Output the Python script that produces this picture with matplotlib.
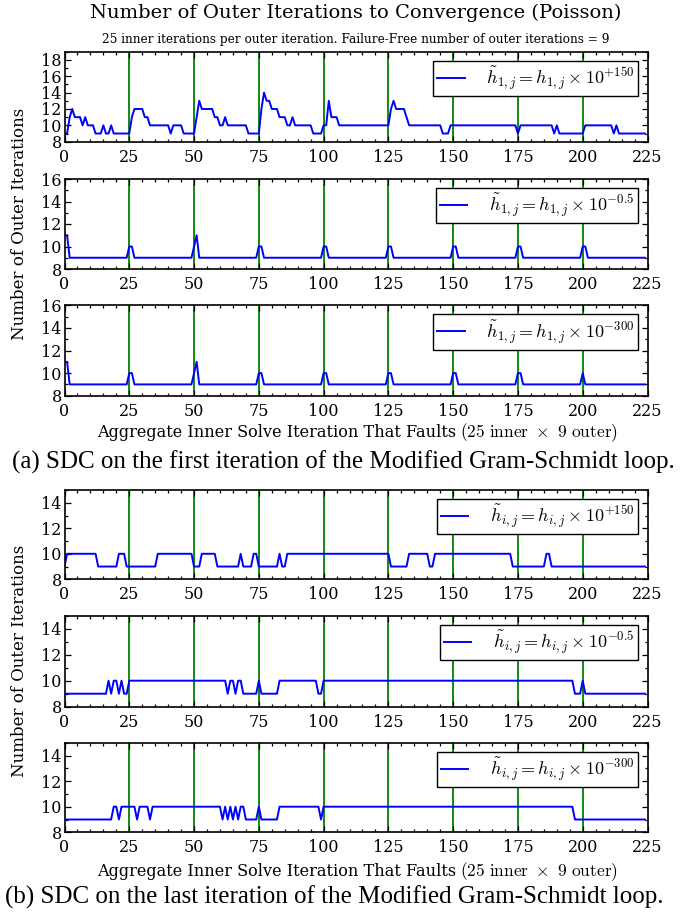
import numpy as np
import matplotlib
matplotlib.use('Agg')
import matplotlib.pyplot as plt
from matplotlib.ticker import MultipleLocator

# ---------------- data ----------------
inner_per_outer = 25
n_outer = 9
fault_iter = np.arange(inner_per_outer * n_outer)          # 0 .. 224
outer_boundaries = [25, 50, 75, 100, 125, 150, 175, 200]
x_ticks = [0, 25, 50, 75, 100, 125, 150, 175, 200, 225]

# (a) SDC on the first iteration of MGS
a_plus150 = (
    [9, 9, 11, 12, 11, 11, 11, 10, 11, 10, 10, 10, 9, 9, 9, 10, 9, 9, 10, 9, 9, 9, 9, 9, 9] +
    [9, 11, 12, 12, 12, 12, 11, 11, 10, 10, 10, 10, 10, 10, 10, 10, 9, 10, 10, 10, 10, 9, 9, 9, 9] +
    [9, 11, 13, 12, 12, 12, 12, 12, 11, 11, 10, 10, 11, 10, 10, 10, 10, 10, 10, 10, 10, 9, 9, 9, 9] +
    [9, 12, 14, 13, 13, 12, 12, 12, 11, 11, 11, 10, 10, 11, 10, 10, 10, 10, 10, 10, 10, 9, 9, 9, 9] +
    [10, 10, 13, 11, 11, 11, 10, 10, 10, 10, 10, 10, 10, 10, 10, 10, 10, 10, 10, 10, 10, 10, 10, 10, 10] +
    [10, 12, 13, 12, 12, 12, 12, 11, 10, 10, 10, 10, 10, 10, 10, 10, 10, 10, 10, 10, 10, 9, 9, 9, 10] +
    [10, 10, 10, 10, 10, 10, 10, 10, 10, 10, 10, 10, 10, 10, 10, 10, 10, 10, 10, 10, 10, 10, 10, 10, 10] +
    [9, 10, 10, 10, 10, 10, 10, 10, 10, 10, 10, 10, 10, 10, 9, 10, 9, 9, 9, 9, 9, 9, 9, 9, 9] +
    [9, 10, 10, 10, 10, 10, 10, 10, 10, 10, 10, 10, 9, 10, 9, 9, 9, 9, 9, 9, 9, 9, 9, 9, 9]
)
a_minus05 = (
    [11, 11, 9, 9, 9, 9, 9, 9, 9, 9, 9, 9, 9, 9, 9, 9, 9, 9, 9, 9, 9, 9, 9, 9, 9] +
    [10, 10, 9, 9, 9, 9, 9, 9, 9, 9, 9, 9, 9, 9, 9, 9, 9, 9, 9, 9, 9, 9, 9, 9, 9] +
    [10, 11, 9, 9, 9, 9, 9, 9, 9, 9, 9, 9, 9, 9, 9, 9, 9, 9, 9, 9, 9, 9, 9, 9, 9] +
    [10, 10, 9, 9, 9, 9, 9, 9, 9, 9, 9, 9, 9, 9, 9, 9, 9, 9, 9, 9, 9, 9, 9, 9, 9] +
    [10, 10, 9, 9, 9, 9, 9, 9, 9, 9, 9, 9, 9, 9, 9, 9, 9, 9, 9, 9, 9, 9, 9, 9, 9] +
    [10, 10, 9, 9, 9, 9, 9, 9, 9, 9, 9, 9, 9, 9, 9, 9, 9, 9, 9, 9, 9, 9, 9, 9, 9] +
    [10, 10, 9, 9, 9, 9, 9, 9, 9, 9, 9, 9, 9, 9, 9, 9, 9, 9, 9, 9, 9, 9, 9, 9, 9] +
    [10, 10, 9, 9, 9, 9, 9, 9, 9, 9, 9, 9, 9, 9, 9, 9, 9, 9, 9, 9, 9, 9, 9, 9, 9] +
    [10, 10, 9, 9, 9, 9, 9, 9, 9, 9, 9, 9, 9, 9, 9, 9, 9, 9, 9, 9, 9, 9, 9, 9, 9]
)
a_minus300 = (
    [11, 11, 9, 9, 9, 9, 9, 9, 9, 9, 9, 9, 9, 9, 9, 9, 9, 9, 9, 9, 9, 9, 9, 9, 9] +
    [10, 10, 9, 9, 9, 9, 9, 9, 9, 9, 9, 9, 9, 9, 9, 9, 9, 9, 9, 9, 9, 9, 9, 9, 9] +
    [10, 11, 9, 9, 9, 9, 9, 9, 9, 9, 9, 9, 9, 9, 9, 9, 9, 9, 9, 9, 9, 9, 9, 9, 9] +
    [10, 10, 9, 9, 9, 9, 9, 9, 9, 9, 9, 9, 9, 9, 9, 9, 9, 9, 9, 9, 9, 9, 9, 9, 9] +
    [10, 10, 9, 9, 9, 9, 9, 9, 9, 9, 9, 9, 9, 9, 9, 9, 9, 9, 9, 9, 9, 9, 9, 9, 9] +
    [10, 10, 9, 9, 9, 9, 9, 9, 9, 9, 9, 9, 9, 9, 9, 9, 9, 9, 9, 9, 9, 9, 9, 9, 9] +
    [10, 10, 9, 9, 9, 9, 9, 9, 9, 9, 9, 9, 9, 9, 9, 9, 9, 9, 9, 9, 9, 9, 9, 9, 9] +
    [10, 10, 9, 9, 9, 9, 9, 9, 9, 9, 9, 9, 9, 9, 9, 9, 9, 9, 9, 9, 9, 9, 9, 9, 9] +
    [10, 9, 9, 9, 9, 9, 9, 9, 9, 9, 9, 9, 9, 9, 9, 9, 9, 9, 9, 9, 9, 9, 9, 9, 9]
)

# (b) SDC on the last iteration of MGS
b_plus150 = (
    [9, 10, 10, 10, 10, 10, 10, 10, 10, 10, 10, 10, 10, 9, 9, 9, 9, 9, 9, 9, 9, 10, 10, 10, 9] +
    [9, 9, 9, 9, 9, 9, 9, 9, 9, 9, 9, 10, 10, 10, 10, 10, 10, 10, 10, 10, 10, 10, 10, 10, 10] +
    [9, 9, 9, 10, 10, 10, 10, 10, 10, 9, 9, 9, 9, 9, 9, 9, 9, 9, 10, 9, 9, 9, 9, 10, 10] +
    [9, 9, 9, 9, 9, 9, 9, 9, 10, 9, 9, 10, 10, 10, 10, 10, 10, 10, 10, 10, 10, 10, 10, 10, 10] +
    [10, 10, 10, 10, 10, 10, 10, 10, 10, 10, 10, 10, 10, 10, 10, 10, 10, 10, 10, 10, 10, 10, 10, 10, 10] +
    [10, 9, 9, 9, 9, 9, 9, 9, 10, 10, 10, 10, 10, 10, 10, 10, 9, 9, 10, 10, 10, 10, 10, 10, 10] +
    [10, 10, 10, 10, 10, 10, 10, 10, 10, 10, 10, 10, 10, 10, 10, 10, 10, 10, 10, 10, 10, 10, 10, 9, 9] +
    [9, 9, 9, 9, 9, 9, 9, 9, 9, 9, 9, 10, 10, 9, 9, 9, 9, 9, 9, 9, 9, 9, 9, 9, 9] +
    [9, 9, 9, 9, 9, 9, 9, 9, 9, 9, 9, 9, 9, 9, 9, 9, 9, 9, 9, 9, 9, 9, 9, 9, 9]
)
b_minus05 = (
    [9, 9, 9, 9, 9, 9, 9, 9, 9, 9, 9, 9, 9, 9, 9, 9, 9, 10, 9, 10, 10, 9, 10, 9, 9] +
    [10, 10, 10, 10, 10, 10, 10, 10, 10, 10, 10, 10, 10, 10, 10, 10, 10, 10, 10, 10, 10, 10, 10, 10, 10] +
    [10, 10, 10, 10, 10, 10, 10, 10, 10, 10, 10, 10, 10, 9, 10, 10, 9, 10, 10, 9, 9, 9, 9, 9, 9] +
    [10, 9, 9, 9, 9, 9, 9, 9, 10, 10, 10, 10, 10, 10, 10, 10, 10, 10, 10, 10, 10, 10, 10, 9, 9] +
    [10, 10, 10, 10, 10, 10, 10, 10, 10, 10, 10, 10, 10, 10, 10, 10, 10, 10, 10, 10, 10, 10, 10, 10, 10] +
    [10, 10, 10, 10, 10, 10, 10, 10, 10, 10, 10, 10, 10, 10, 10, 10, 10, 10, 10, 10, 10, 10, 10, 10, 10] +
    [10, 10, 10, 10, 10, 10, 10, 10, 10, 10, 10, 10, 10, 10, 10, 10, 10, 10, 10, 10, 10, 10, 10, 10, 10] +
    [10, 10, 10, 10, 10, 10, 10, 10, 10, 10, 10, 10, 10, 10, 10, 10, 10, 10, 10, 10, 10, 10, 9, 9, 9] +
    [10, 9, 9, 9, 9, 9, 9, 9, 9, 9, 9, 9, 9, 9, 9, 9, 9, 9, 9, 9, 9, 9, 9, 9, 9]
)
b_minus300 = (
    [9, 9, 9, 9, 9, 9, 9, 9, 9, 9, 9, 9, 9, 9, 9, 9, 9, 9, 9, 10, 10, 9, 10, 10, 10] +
    [10, 10, 10, 9, 10, 10, 10, 10, 9, 10, 10, 10, 10, 10, 10, 10, 10, 10, 10, 10, 10, 10, 10, 10, 10] +
    [10, 10, 10, 10, 10, 10, 10, 10, 10, 10, 10, 9, 10, 9, 10, 9, 10, 9, 10, 10, 9, 9, 9, 9, 9] +
    [10, 9, 9, 9, 9, 9, 9, 9, 10, 10, 10, 10, 10, 10, 10, 10, 10, 10, 10, 10, 10, 10, 10, 10, 9] +
    [10, 10, 10, 10, 10, 10, 10, 10, 10, 10, 10, 10, 10, 10, 10, 10, 10, 10, 10, 10, 10, 10, 10, 10, 10] +
    [10, 10, 10, 10, 10, 10, 10, 10, 10, 10, 10, 10, 10, 10, 10, 10, 10, 10, 10, 10, 10, 10, 10, 10, 10] +
    [10, 10, 10, 10, 10, 10, 10, 10, 10, 10, 10, 10, 10, 10, 10, 10, 10, 10, 10, 10, 10, 10, 10, 10, 10] +
    [10, 10, 10, 10, 10, 10, 10, 10, 10, 10, 10, 10, 10, 10, 10, 10, 10, 10, 10, 10, 10, 10, 9, 9, 9] +
    [9, 9, 9, 9, 9, 9, 9, 9, 9, 9, 9, 9, 9, 9, 9, 9, 9, 9, 9, 9, 9, 9, 9, 9, 9]
)

labels_a = [r'$\tilde{h}_{1,j} = h_{1,j} \times 10^{+150}$',
            r'$\tilde{h}_{1,j} = h_{1,j} \times 10^{-0.5}$',
            r'$\tilde{h}_{1,j} = h_{1,j} \times 10^{-300}$']
labels_b = [r'$\tilde{h}_{i,j} = h_{i,j} \times 10^{+150}$',
            r'$\tilde{h}_{i,j} = h_{i,j} \times 10^{-0.5}$',
            r'$\tilde{h}_{i,j} = h_{i,j} \times 10^{-300}$']

title = 'Number of Outer Iterations to Convergence (Poisson)'
subtitle = ('25 inner iterations per outer iteration. '
            'Failure-Free number of outer iterations = 9')
ylabel = 'Number of Outer Iterations'
xlabel_main = 'Aggregate Inner Solve Iteration That Faults'
xlabel_math = r'$(25\ \mathrm{inner}\ \times\ 9\ \mathrm{outer})$'
caption_a = '(a) SDC on the first iteration of the Modified Gram-Schmidt loop.'
caption_b = '(b) SDC on the last iteration of the Modified Gram-Schmidt loop.'

# ---------------- figure ----------------
plt.rcParams['font.family'] = ['DejaVu Serif']
plt.rcParams['mathtext.fontset'] = 'cm'

W, H = 688, 914
fig = plt.figure(figsize=(W / 100, H / 100), dpi=100)
fig.patch.set_facecolor('white')

LEFT, RIGHT = 64.5, 647.5


def rect(top, bottom):
    return [LEFT / W, 1 - bottom / H, (RIGHT - LEFT) / W, (bottom - top) / H]


panels = [
    (rect(51.7, 141.7), a_plus150, labels_a[0], 19),
    (rect(179.0, 269.0), a_minus05, labels_a[1], 16),
    (rect(305.3, 395.7), a_minus300, labels_a[2], 16),
    (rect(490.0, 579.3), b_plus150, labels_b[0], 15),
    (rect(615.7, 706.7), b_minus05, labels_b[1], 15),
    (rect(742.7, 832.3), b_minus300, labels_b[2], 15),
]

for r, series, lab, ytop in panels:
    ax = fig.add_axes(r)
    for xb in outer_boundaries:
        ax.axvline(xb, color=(0.0, 0.5, 0.0), lw=1.3, zorder=1)
    ax.plot(fault_iter, series, color='#0000ff', lw=1.4, label=lab, zorder=2)
    ax.set_xlim(0, 225)
    ax.set_ylim(8, ytop)
    ax.set_xticks(x_ticks)
    ax.xaxis.set_minor_locator(MultipleLocator(5))
    ax.yaxis.set_major_locator(MultipleLocator(2))
    ax.yaxis.set_minor_locator(MultipleLocator(1))
    ax.tick_params(which='both', direction='in', top=True, right=True,
                   labelsize=11.5, width=0.9)
    ax.tick_params(which='major', length=4.5)
    ax.tick_params(which='minor', length=2.5)
    ax.tick_params(axis='x', pad=5)
    ax.tick_params(axis='y', pad=2)
    for s in ax.spines.values():
        s.set_linewidth(1.2)
    leg = ax.legend(loc='upper right', fontsize=13, fancybox=False,
                    edgecolor='black', framealpha=1.0, handlelength=1.5,
                    borderpad=0.22, handletextpad=1.2, borderaxespad=0.5)
    leg.get_frame().set_linewidth(1.0)

# titles
fig.text(356 / W, 1 - 13 / H, title, ha='center', va='center', fontsize=14.0)
fig.text(356 / W, 1 - 40 / H, subtitle, ha='center', va='center', fontsize=8.7)

# y labels
fig.text(20 / W, 1 - 223.7 / H, ylabel, rotation=90, ha='center',
         va='center', fontsize=12)
fig.text(20 / W, 1 - 661.0 / H, ylabel, rotation=90, ha='center',
         va='center', fontsize=12)

# x labels (two parts: normal + math)
fig.canvas.draw()
renderer = fig.canvas.get_renderer()
for base in (436.7, 875.7):
    t1 = fig.text(0, 1 - base / H, xlabel_main, ha='left', va='baseline',
                  fontsize=11.6)
    t2 = fig.text(0, 1 - base / H, xlabel_math, ha='left', va='baseline',
                  fontsize=12.5)
    w1 = t1.get_window_extent(renderer).width
    gap = 4
    start = 97.0
    t1.set_x(start / W)
    t2.set_x((start + w1 + gap) / W)

# captions
fig.text(11.7 / W, 1 - 468.3 / H, caption_a, ha='left', va='baseline',
         fontsize=18, family=['Liberation Serif'])
fig.text(5 / W, 1 - 903.3 / H, caption_b, ha='left', va='baseline',
         fontsize=18, family=['Liberation Serif'])

fig.savefig('out.png', dpi=100, facecolor='white')
